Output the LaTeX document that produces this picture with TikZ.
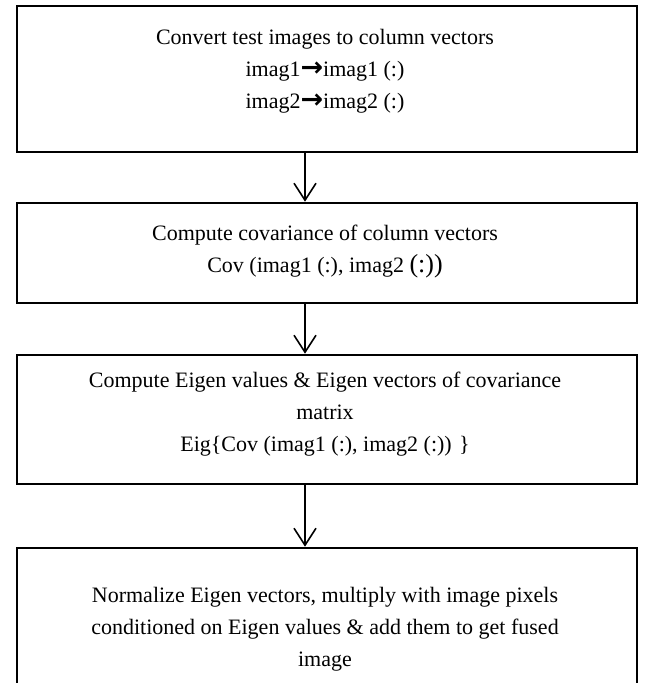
\documentclass[tikz,border=0pt]{standalone}
\usepackage{fontspec}
\setmainfont{Liberation Serif}
\newfontfamily\arrowfont{DejaVu Sans}
\usetikzlibrary{arrows.meta}

\tikzset{
  box/.style={draw, line width=2.6pt, minimum width=620pt, inner sep=0pt},
  txt/.style={align=center, font=\fontsize{22}{32}\selectfont, inner sep=0pt},
  flow/.style={line width=1.6pt, -{Straight Barb[length=17pt,width=22pt]}},
}
\newcommand{\into}{{\arrowfont\bfseries\fontsize{27}{32}\selectfont\char"2192}}

\begin{document}
\begin{tikzpicture}[x=1pt,y=-1pt]
      \useasboundingbox (0,0) rectangle (650,683);

      \node[box, minimum height=146pt] (conv) at (327,79) {};
      \node[box, minimum height=100pt] (cov) at (327,253) {};
      \node[box, minimum height=129pt] (eig) at (327,419.5) {};
      \node[box, minimum height=164pt] (fuse) at (327,630) {};

      \node[txt] (convtxt) at (325,71) {Convert test images to column vectors\\
        imag1\into imag1 (:)\\ imag2\into imag2 (:)};
      \node[txt] (covtxt) at (325,252) {Compute covariance of column vectors\\
        Cov (imag1 (:), imag2 {\fontsize{26}{32}\selectfont(:))}};
      \node[txt] (eigtxt) at (325,414) {Compute Eigen values \& Eigen vectors of covariance\\
        matrix\\ Eig\{Cov (imag1 (:), imag2 (:)) \}};
      \node[txt] (fusetxt) at (325,629) {Normalize Eigen vectors, multiply with image pixels\\
        conditioned on Eigen values \& add them to get fused\\ image};

      \coordinate (axis) at (305,0);
      \draw[flow] (conv.south -| axis) -- (cov.north -| axis);
      \draw[flow] (cov.south -| axis) -- (eig.north -| axis);
      \draw[flow] (eig.south -| axis) -- (fuse.north -| axis);
\end{tikzpicture}
\end{document}
